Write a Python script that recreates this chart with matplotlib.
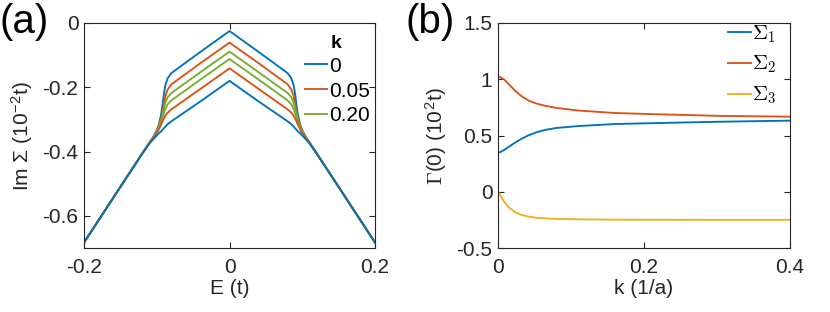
import matplotlib
matplotlib.use("Agg")
import matplotlib.pyplot as plt

plt.rcParams['font.family'] = ['Liberation Sans', 'DejaVu Sans']
plt.rcParams['mathtext.fontset'] = 'cm'

# panel (a): Im Sigma vs E, two branches for each k
E = [-0.2, -0.15, -0.12, -0.11, -0.105, -0.1, -0.097, -0.094, -0.092, -0.09, -0.088, -0.085, -0.08, -0.04, 0.0,
     0.04, 0.08, 0.085, 0.088, 0.09, 0.092, 0.094, 0.097, 0.1, 0.105, 0.11, 0.12, 0.15, 0.2]
k0_up = [-0.683, -0.51, -0.406, -0.372, -0.355, -0.333, -0.315, -0.285, -0.255, -0.218, -0.192, -0.172, -0.156, -0.090, -0.025,
         -0.090, -0.156, -0.172, -0.192, -0.218, -0.255, -0.285, -0.315, -0.333, -0.355, -0.372, -0.406, -0.51, -0.683]
k05_up = [-0.683, -0.51, -0.406, -0.372, -0.356, -0.336, -0.320, -0.298, -0.275, -0.250, -0.226, -0.207, -0.191, -0.125, -0.061,
          -0.125, -0.191, -0.207, -0.226, -0.250, -0.275, -0.298, -0.320, -0.336, -0.356, -0.372, -0.406, -0.51, -0.683]
k20_up = [-0.683, -0.51, -0.406, -0.372, -0.357, -0.337, -0.322, -0.302, -0.283, -0.263, -0.247, -0.231, -0.218, -0.153, -0.089,
          -0.153, -0.218, -0.231, -0.247, -0.263, -0.283, -0.302, -0.322, -0.337, -0.357, -0.372, -0.406, -0.51, -0.683]
k20_lo = [-0.683, -0.51, -0.406, -0.372, -0.358, -0.340, -0.326, -0.309, -0.293, -0.279, -0.266, -0.253, -0.241, -0.176, -0.112,
          -0.176, -0.241, -0.253, -0.266, -0.279, -0.293, -0.309, -0.326, -0.340, -0.358, -0.372, -0.406, -0.51, -0.683]
k05_lo = [-0.683, -0.51, -0.406, -0.373, -0.360, -0.342, -0.330, -0.316, -0.306, -0.296, -0.288, -0.279, -0.269, -0.205, -0.141,
          -0.205, -0.269, -0.279, -0.288, -0.296, -0.306, -0.316, -0.330, -0.342, -0.360, -0.373, -0.406, -0.51, -0.683]
k0_lo = [-0.683, -0.51, -0.407, -0.375, -0.362, -0.350, -0.343, -0.337, -0.332, -0.327, -0.322, -0.315, -0.306, -0.244, -0.180,
         -0.244, -0.306, -0.315, -0.322, -0.327, -0.332, -0.337, -0.343, -0.350, -0.362, -0.375, -0.407, -0.51, -0.683]
k_labels = ['0', '0.05', '0.20']

# panel (b): Gamma(0) vs k
k = [0.0, 0.003, 0.008, 0.015, 0.023, 0.032, 0.042, 0.052, 0.064, 0.08, 0.11, 0.16, 0.2, 0.3, 0.4]
sig1 = [0.347, 0.352, 0.37, 0.40, 0.435, 0.47, 0.502, 0.527, 0.549, 0.567, 0.584, 0.602, 0.608, 0.622, 0.632]
sig2 = [1.023, 1.02, 1.0, 0.955, 0.90, 0.85, 0.81, 0.785, 0.765, 0.745, 0.722, 0.70, 0.692, 0.675, 0.667]
sig3 = [0.0, -0.03, -0.085, -0.14, -0.18, -0.205, -0.222, -0.231, -0.237, -0.241, -0.245, -0.248, -0.249, -0.25, -0.25]

blue = '#0072BD'
orange = '#D95319'
yellow = '#EDB120'
green = '#77AC30'
dark = '#262626'
fs = 15

fig = plt.figure(figsize=(8.3, 3.12), dpi=100)
ax1 = fig.add_axes([84 / 830, 64 / 312, 291 / 830, 225 / 312])
ax2 = fig.add_axes([498 / 830, 64 / 312, 292 / 830, 225 / 312])

lw = 1.35
la, = ax1.plot(E, k0_up, color=blue, lw=lw)
lb, = ax1.plot(E, k05_up, color=orange, lw=lw)
lc, = ax1.plot(E, k20_up, color=green, lw=lw)
ax1.plot(E, k20_lo, color=green, lw=lw)
ax1.plot(E, k05_lo, color=orange, lw=lw)
ax1.plot(E, k0_lo, color=blue, lw=lw)
ax1.set_xlim(-0.2, 0.2)
ax1.set_ylim(-0.7, 0)
ax1.set_xticks([-0.2, 0, 0.2])
ax1.set_xticklabels(['-0.2', '0', '0.2'])
ax1.set_yticks([-0.6, -0.4, -0.2, 0])
ax1.set_yticklabels(['-0.6', '-0.4', '-0.2', '0'])
ax1.set_xlabel('E (t)', fontsize=fs, color=dark, labelpad=2)
ax1.set_ylabel(r'Im Σ (10$^{\mathregular{-2}}$t)', fontsize=fs, color=dark)
ax1.yaxis.set_label_coords(-0.165, 0.5)
ax1.legend([la, lb, lc], k_labels, frameon=False, fontsize=fs,
           loc='upper left', bbox_to_anchor=(0.759, 0.85), handlelength=1.06,
           handletextpad=0.1, labelspacing=0.28, borderaxespad=0.0, borderpad=0.0)
ax1.text(0.866, 0.911, 'k', transform=ax1.transAxes, fontsize=14, fontweight='bold',
         color='black', ha='center', va='center')

ax2.plot(k, sig1, color=blue, lw=lw, label=r'$\Sigma_{\mathsf{1}}$')
ax2.plot(k, sig2, color=orange, lw=lw, label=r'$\Sigma_{\mathsf{2}}$')
ax2.plot(k, sig3, color=yellow, lw=lw, label=r'$\Sigma_{\mathsf{3}}$')
ax2.set_xlim(0, 0.4)
ax2.set_ylim(-0.5, 1.5)
ax2.set_xticks([0, 0.2, 0.4])
ax2.set_xticklabels(['0', '0.2', '0.4'])
ax2.set_yticks([-0.5, 0, 0.5, 1, 1.5])
ax2.set_yticklabels(['-0.5', '0', '0.5', '1', '1.5'])
ax2.set_xlabel('k (1/a)', fontsize=fs, color=dark, labelpad=2)
ax2.set_ylabel(r'$\Gamma$(0) (10$^{\mathregular{2}}$t)', fontsize=fs, color=dark)
ax2.yaxis.set_label_coords(-0.164, 0.5)
ax2.legend(frameon=False, fontsize=15, loc='upper left', bbox_to_anchor=(0.788, 1.0),
           handlelength=1.1, handletextpad=0.05, labelspacing=0.45,
           borderaxespad=0.0, borderpad=0.0)

for ax in (ax1, ax2):
    ax.tick_params(direction='in', top=True, right=True, length=4, width=0.8,
                   labelsize=fs, colors=dark)
    ax.tick_params(axis='x', pad=7)
    ax.tick_params(axis='y', pad=4)
    for s in ax.spines.values():
        s.set_color(dark)
        s.set_linewidth(0.8)

fig.text(0.0, 1 - 33 / 312, '(a)', fontsize=29, color='black', ha='left', va='baseline')
fig.text(405 / 830, 1 - 33 / 312, '(b)', fontsize=29, color='black', ha='left', va='baseline')

fig.savefig('out.png', dpi=100)
